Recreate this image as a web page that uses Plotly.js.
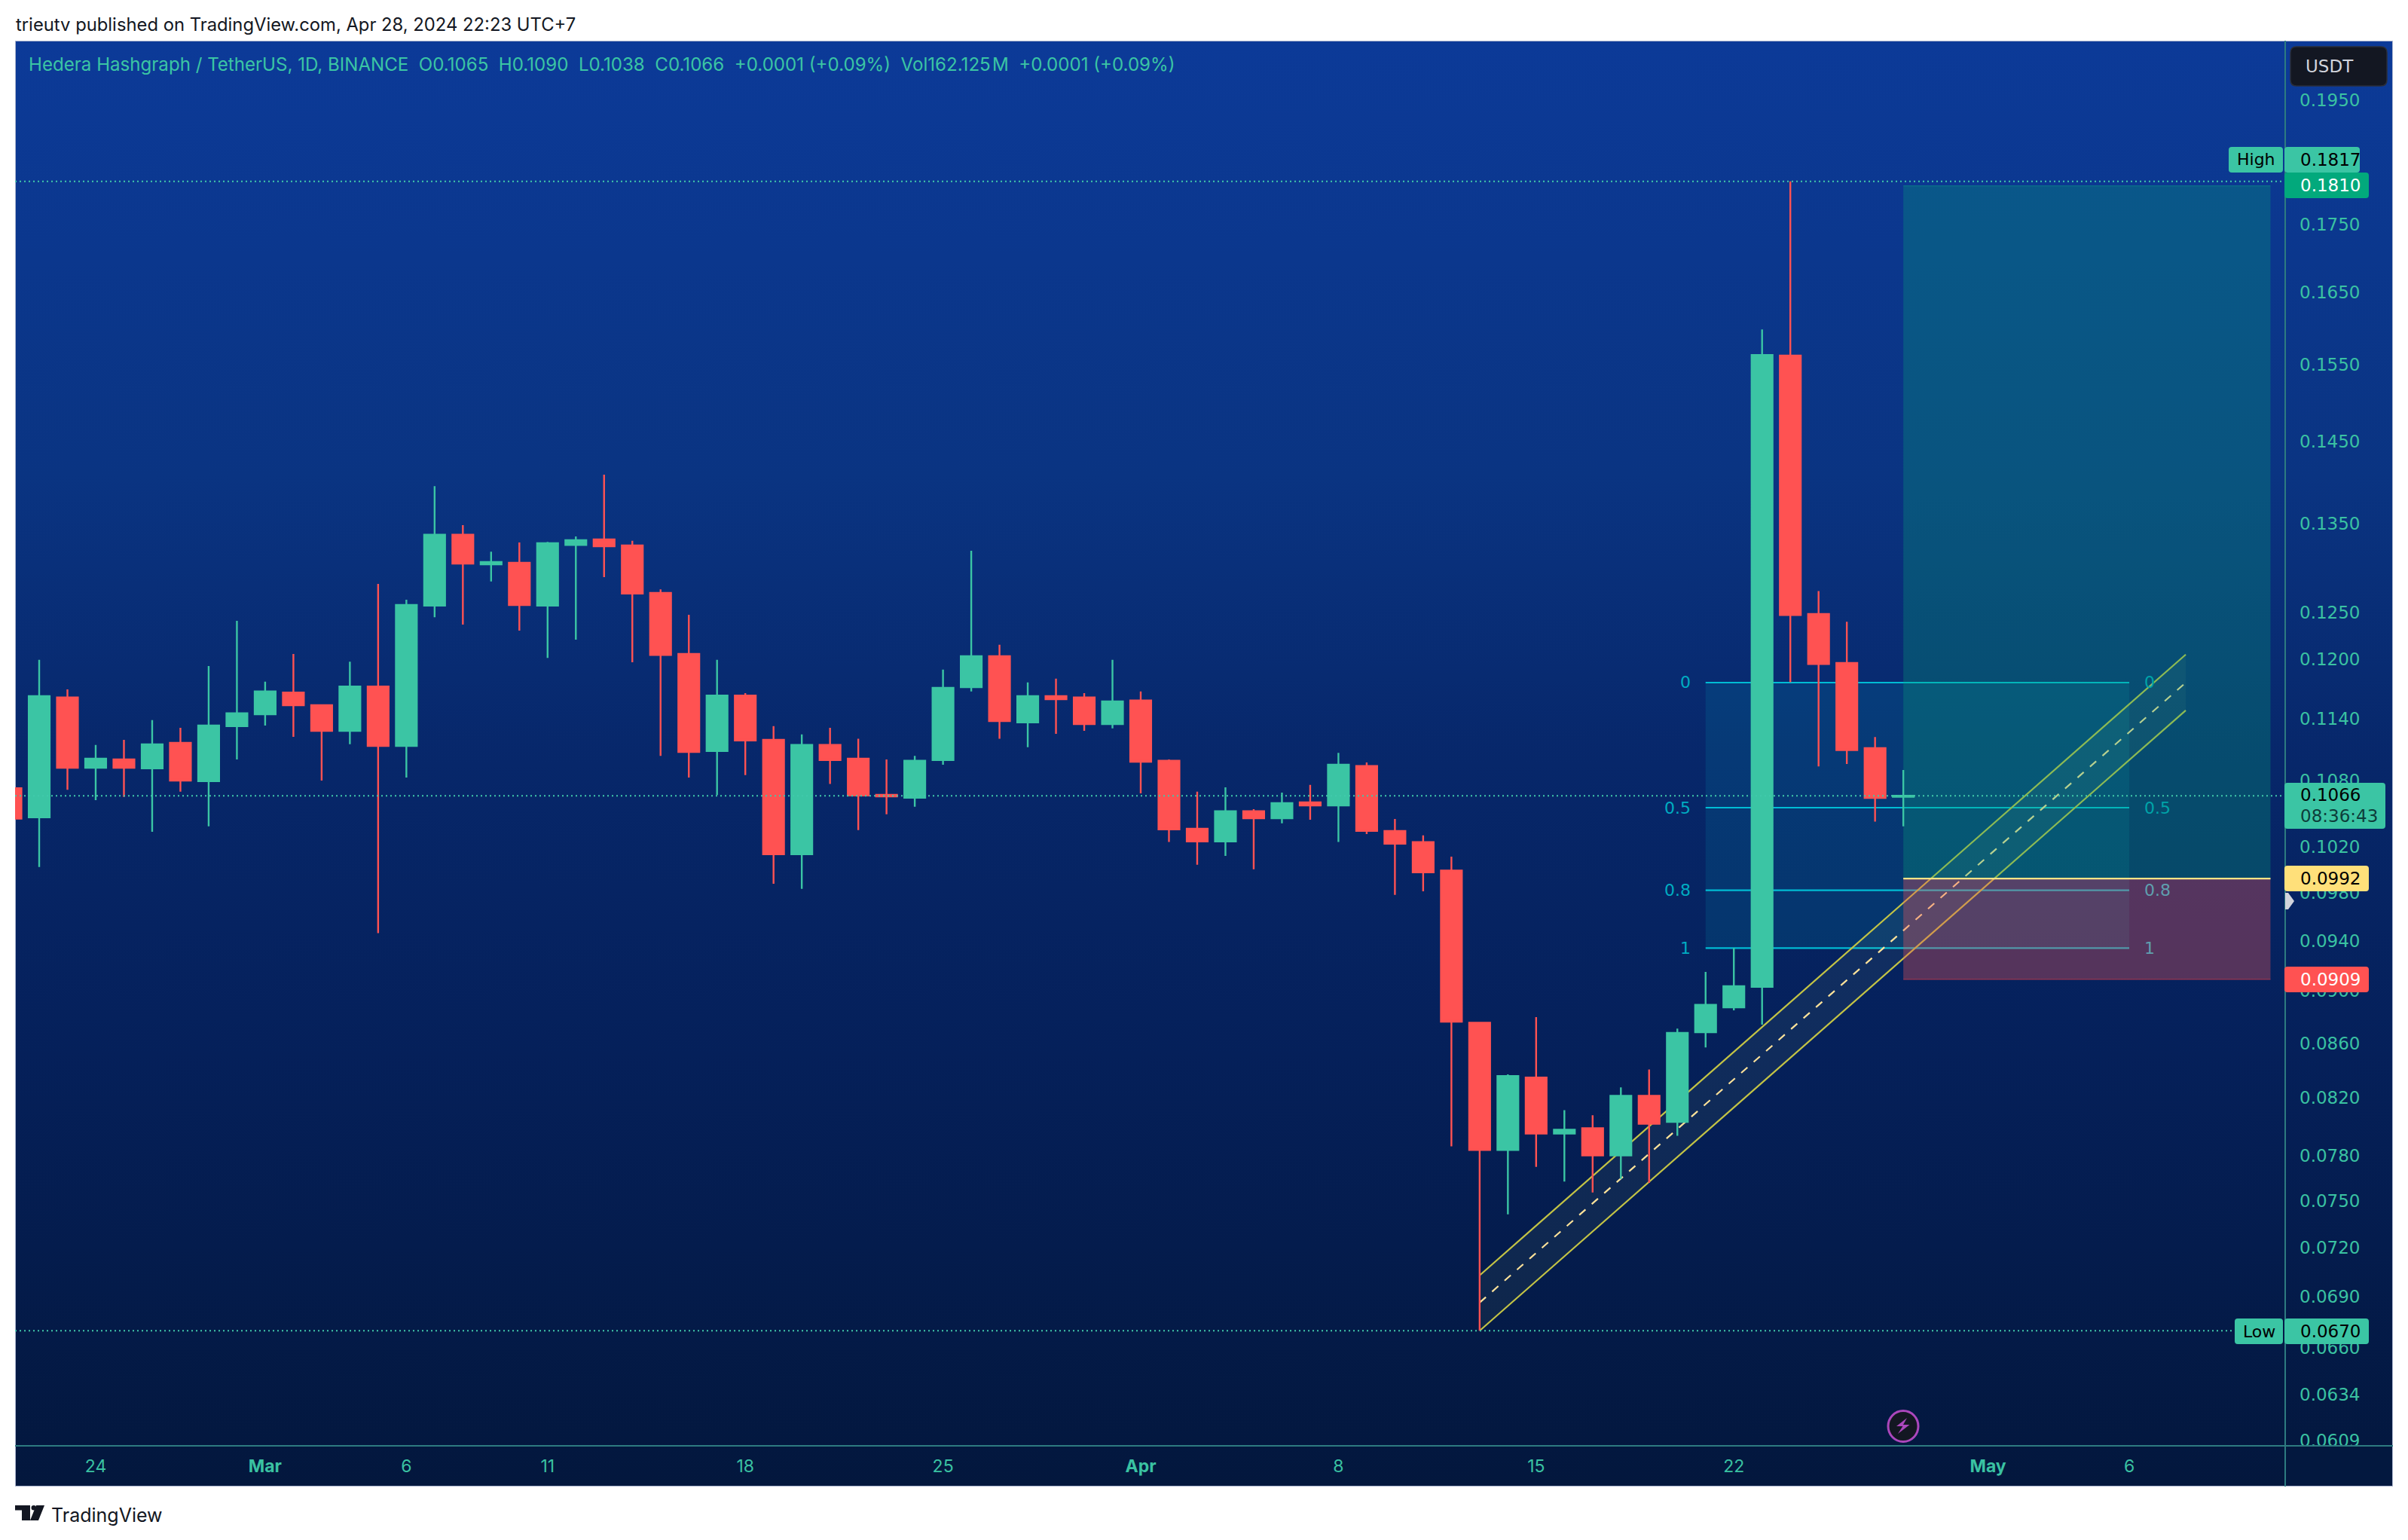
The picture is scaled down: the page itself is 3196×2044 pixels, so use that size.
<!DOCTYPE html>
<html><head><meta charset="utf-8">
<script src="https://cdn.plot.ly/plotly-3.0.1.min.js"></script>
<style>
html,body{margin:0;padding:0;background:#fff;width:3196px;height:2044px;overflow:hidden}
#panel{position:absolute;left:20px;top:54px;width:3156px;height:1919px;box-sizing:border-box;border:1.5px solid #aab4cd;
background:linear-gradient(180deg,#0c3a98 0%,#0a3482 30%,#07276a 50%,#05205a 70%,#03173d 100%)}
#chart{position:absolute;left:0;top:0;width:3196px;height:2044px}
</style></head><body>
<div id="panel"></div><div id="chart"></div>
<script>
const dates=['2024-02-21','2024-02-22','2024-02-23','2024-02-24','2024-02-25','2024-02-26','2024-02-27','2024-02-28','2024-02-29',
'2024-03-01','2024-03-02','2024-03-03','2024-03-04','2024-03-05','2024-03-06','2024-03-07','2024-03-08','2024-03-09','2024-03-10',
'2024-03-11','2024-03-12','2024-03-13','2024-03-14','2024-03-15','2024-03-16','2024-03-17','2024-03-18','2024-03-19','2024-03-20',
'2024-03-21','2024-03-22','2024-03-23','2024-03-24','2024-03-25','2024-03-26','2024-03-27','2024-03-28','2024-03-29','2024-03-30','2024-03-31',
'2024-04-01','2024-04-02','2024-04-03','2024-04-04','2024-04-05','2024-04-06','2024-04-07','2024-04-08','2024-04-09','2024-04-10',
'2024-04-11','2024-04-12','2024-04-13','2024-04-14','2024-04-15','2024-04-16','2024-04-17','2024-04-18','2024-04-19','2024-04-20',
'2024-04-21','2024-04-22','2024-04-23','2024-04-24','2024-04-25','2024-04-26','2024-04-27','2024-04-28'];
const open=[.1073,.10462,.11609,.10922,.11001,.10916,.1116,.10795,.11324,.1144,.11659,.11531,.11278,.1172,.11131,.12572,.1337,.13031,.1305,
.12572,.13253,.13316,.13246,.12711,.12056,.11082,.11629,.1119,.10132,.11141,.11008,.10669,.10641,.10995,.11713,.12032,.1136,.11622,.11609,.11344,
.11579,.10989,.10359,.10246,.10518,.10453,.10598,.1057,.10938,.10339,.1024,.09989,.08754,.07838,.08347,.07951,.07988,.07801,.08216,.08031,
.08681,.08871,.09031,.1562,.12481,.11961,.1111,.1065];
const high=[.1073,.11994,.1169,.11141,.1119,.11383,.11308,.11931,.12407,.11769,.12056,.11541,.11976,.12811,.12638,.13947,.13483,.13176,.13281,
.13288,.13351,.14087,.133,.12752,.12473,.11994,.11653,.11324,.11242,.11308,.112,.11001,.11036,.11893,.13186,.12153,.11762,.118,.11653,.11994,
.1167,.11001,.10697,.10738,.10536,.10689,.1076,.11065,.10973,.10447,.10299,.10111,.08754,.0837,.08796,.08114,.08078,.08276,.08406,.08709,
.09148,.0934,.15978,.1817,.12733,.12398,.11218,.109];
const low=[.1045,.10021,.10716,.1062,.10648,.10332,.10697,.1038,.11001,.1133,.11219,.10801,.11147,.09461,.1083,.12447,.12367,.12838,.12303,
.12014,.12206,.12887,.1197,.11036,.1083,.10666,.10852,.09876,.09832,.1077,.10347,.1049,.10558,.10951,.1167,.112,.11118,.11249,.11278,.11301,
.10682,.1024,.1004,.10117,.10001,.10407,.10441,.1024,.10312,.09781,.09812,.07863,.067,.07412,.07724,.07626,.07554,.07644,.07617,.07935,
.08568,.08848,.08739,.11763,.10935,.10958,.10424,.1038];
const close=[.1045,.11622,.10922,.11008,.10922,.11147,.10801,.1133,.11451,.1167,.11531,.11278,.1172,.11131,.12579,.1337,.13039,.13058,.12579,
.13273,.13308,.13238,.12704,.12046,.11072,.11629,.11183,.10132,.11141,.10995,.10663,.10654,.10989,.11707,.12032,.11373,.11622,.11592,.11344,.1157,
.10979,.10353,.10246,.10518,.10453,.10592,.1057,.10951,.10339,.10225,.09975,.08762,.07838,.08357,.07951,.07977,.07801,.08216,.08019,.08676,
.0889,.09036,.15628,.12471,.11951,.11091,.10639,.1066];
const priceTicks=[.195,.175,.165,.155,.145,.135,.125,.12,.114,.108,.102,.098,.094,.09,.086,.082,.078,.075,.072,.069,.066,.0634,.0609];
const dateTicks=['2024-02-24','2024-03-01','2024-03-06','2024-03-11','2024-03-18','2024-03-25','2024-04-01','2024-04-08','2024-04-15','2024-04-22','2024-05-01','2024-05-06'];
const dateLabels=['24','<b>Mar</b>','6','11','18','25','<b>Apr</b>','8','15','22','<b>May</b>','6'];
const xRange=['2024-02-21 03:30','2024-05-11 12:30'];
const yRange=[.06063,.2053];
const channelDates=['2024-04-13','2024-05-08'];
const channelUpper=[.0703,.1205], channelMid=[.06866,.1176], channelLower=[.067,.1148];
const toolDates=['2024-04-28','2024-05-11'];
const targetPrice=.181, entryPrice=.0992, stopPrice=.0909;
const fibDates=['2024-04-21','2024-05-06'];
const fibLevels=['0','0.5','0.8','1'];
const fibPrices=[.1176,.1055,.0982,.0934];
const fibRightColors=['#00a3a8','#00a3a8','#5f9fae','#5f9fae'];
const highPrice=.1817, lowPrice=.067, lastPrice=.1066;

const GREEN='#3bc5a4', RED='#ff5252', FONT='Inter, sans-serif', SCALE='"DejaVu Sans", sans-serif', TICK='#3ac2a2';
const X=p=>(p-20)/3013, Y=p=>(1919-p)/1865;
function rr(x0,y0,x1,y1,r,fill,extra){
 const P=(x,y)=>X(x)+','+Y(y);
 return {type:'path',layer:'above',xref:'paper',yref:'paper',fillcolor:fill,line:{width:(extra&&extra.lw)||0,color:(extra&&extra.lc)||fill},
  path:`M${P(x0+r,y0)} L${P(x1-r,y0)} Q${P(x1,y0)} ${P(x1,y0+r)} L${P(x1,y1-r)} Q${P(x1,y1)} ${P(x1-r,y1)} L${P(x0+r,y1)} Q${P(x0,y1)} ${P(x0,y1-r)} L${P(x0,y0+r)} Q${P(x0,y0)} ${P(x0+r,y0)} Z`};
}
const poly=(pts,fill)=>({type:'path',layer:'above',xref:'paper',yref:'paper',fillcolor:fill,line:{width:0},
 path:'M'+pts.map(p=>X(p[0])+','+Y(p[1])).join(' L')+' Z'});
const txt=(t,px,py,col,size,anchor,fam)=>({text:t,xref:'paper',yref:'paper',x:X(px),y:Y(py),xanchor:anchor||'left',yanchor:'middle',
 showarrow:false,font:{family:fam||SCALE,size:size||23,color:col},borderpad:0});

const traces=[
 {type:'scatter',mode:'lines',x:channelDates,y:channelLower,line:{color:'#c4c445',width:2.2},zorder:1,hoverinfo:'skip'},
 {type:'scatter',mode:'lines',x:channelDates,y:channelUpper,line:{color:'#c4c445',width:2.2},fill:'tonexty',fillcolor:'rgba(200,235,130,0.06)',zorder:1,hoverinfo:'skip'},
 {type:'scatter',mode:'lines',x:channelDates,y:channelMid,line:{color:'#ffe39a',width:2.2,dash:'11px,11px'},zorder:1,hoverinfo:'skip'},
 {type:'scatter',mode:'lines',x:[toolDates[0],toolDates[1],toolDates[1],toolDates[0],toolDates[0]],y:[targetPrice,targetPrice,entryPrice,entryPrice,targetPrice],
  fill:'toself',fillcolor:'rgba(8,165,120,0.29)',line:{width:0},zorder:2,hoverinfo:'skip'},
 {type:'scatter',mode:'lines',x:[toolDates[0],toolDates[1],toolDates[1],toolDates[0],toolDates[0]],y:[entryPrice,entryPrice,stopPrice,stopPrice,entryPrice],
  fill:'toself',fillcolor:'rgba(235,85,90,0.35)',line:{width:0},zorder:2,hoverinfo:'skip'},
 {type:'scatter',mode:'lines',x:toolDates,y:[stopPrice,stopPrice],line:{color:'#8c3550',width:1.5},zorder:2,hoverinfo:'skip'},
 {type:'scatter',mode:'lines',x:toolDates,y:[targetPrice,targetPrice],line:{color:'#0a6a8a',width:1.5},zorder:2,hoverinfo:'skip'},
 {type:'scatter',mode:'lines',x:toolDates,y:[entryPrice,entryPrice],line:{color:'#ffe486',width:2.4},zorder:2,hoverinfo:'skip'},
 {type:'candlestick',x:dates,open:open,high:high,low:low,close:close,whiskerwidth:0,zorder:3,
  increasing:{line:{color:GREEN,width:2.4},fillcolor:GREEN},decreasing:{line:{color:RED,width:2.4},fillcolor:RED},hoverinfo:'skip'}
];

const dotted=(p)=>({type:'line',layer:'above',xref:'paper',yref:'y',x0:0,x1:1,y0:p,y1:p,line:{color:'#41c9aa',width:2,dash:'2px,4px'}});
const shapes=[
 {type:'rect',layer:'below',xref:'x',yref:'y',x0:fibDates[0],x1:fibDates[1],y0:fibPrices[0],y1:fibPrices[3],fillcolor:'rgba(0,172,193,0.14)',line:{width:0}},
 ...fibPrices.map(p=>({type:'line',layer:'below',xref:'x',yref:'y',x0:fibDates[0],x1:fibDates[1],y0:p,y1:p,line:{color:'#00bcd4',width:2.2}})),
 dotted(highPrice),dotted(lowPrice),dotted(lastPrice),
 {type:'rect',layer:'above',xref:'paper',yref:'paper',x0:X(3034),x1:X(3175),y0:Y(1920),y1:Y(1972),fillcolor:'#03183f',line:{width:0}},
 {type:'line',layer:'above',xref:'paper',yref:'paper',x0:X(3033),x1:X(3033),y0:Y(54),y1:Y(1973),line:{color:'#2d7b80',width:2}},
 {type:'line',layer:'above',xref:'paper',yref:'paper',x0:X(20),x1:X(3176),y0:Y(1919),y1:Y(1919),line:{color:'#2d7b80',width:2}},
 rr(3040,62,3168,114,8,'#131722',{lw:1.5,lc:'#2a2e39'}),
 rr(2958,195,3030,229,4,GREEN),
 rr(3032,195,3132,229,4,GREEN),
 rr(3032,229,3144,263,4,'#02a97c'),
 rr(3032,1039,3166,1100,4,GREEN),
 rr(3032,1149,3144,1183,4,'#ffe07a'),
 rr(3032,1283,3144,1317,4,RED),
 rr(2966,1750,3030,1784,4,GREEN),
 rr(3032,1750,3144,1784,4,GREEN),
 poly([[3033,1185],[3037,1185],[3045,1196],[3037,1207],[3033,1207]],'#d1d4dc'),
 {type:'circle',layer:'above',xref:'paper',yref:'paper',x0:X(2506),x1:X(2546),y0:Y(1872.5),y1:Y(1913.5),fillcolor:'#131722',line:{color:'#ab47bc',width:3}},
 poly([[2531,1882],[2517,1893],[2525.4,1893],[2519,1903],[2534.5,1891],[2526,1891]],'#ab47bc'),
 poly([[20,1998],[40,1998],[40,2018],[29,2018],[29,2004.5],[20,2004.5]],'#131722'),
 {type:'circle',layer:'above',xref:'paper',yref:'paper',x0:X(41.5),x1:X(48),y0:Y(1998),y1:Y(2004.5),fillcolor:'#131722',line:{width:0}},
 poly([[48,1998],[59,1998],[51,2018],[40,2018]],'#131722')
];

const annotations=[
 txt('trieutv published on TradingView.com, Apr 28, 2024 22:23 UTC+7',20,32,'#131722',23.8,'left',FONT),
 txt('Hedera Hashgraph / TetherUS, 1D, BINANCE\u00a0\u00a0O0.1065\u00a0\u00a0H0.1090\u00a0\u00a0L0.1038\u00a0\u00a0C0.1066\u00a0\u00a0+0.0001 (+0.09%)\u00a0\u00a0Vol162.125\u200aM\u00a0\u00a0+0.0001 (+0.09%)',37,86,'#3bc5a4',24.1,'left',FONT),
 txt('TradingView',67,2011,'#131722',25,'left',FONT),
 txt('USDT',3059,88,'#d1d4dc',23),
 txt('High',2994,212,'#000',22,'center'),
 txt('0.1817',3052,212,'#000',23),
 txt('0.1810',3052,246,'#fff',23),
 txt('0.1066',3052,1055,'#000',23),
 txt('08:36:43',3052,1083,'#0d3d3a',23),
 txt('0.0992',3052,1166,'#000',23),
 txt('0.0909',3052,1300,'#fff',23),
 txt('Low',2998,1767,'#000',22,'center'),
 txt('0.0670',3052,1767,'#000',23),
 ...fibLevels.map((l,i)=>({text:l,xref:'x',yref:'y',x:fibDates[0],y:Math.log10(fibPrices[i]),xanchor:'right',yanchor:'middle',xshift:-18,showarrow:false,font:{family:SCALE,size:22,color:'#00acc1'}})),
 ...fibLevels.map((l,i)=>({text:l,xref:'x',yref:'y',x:fibDates[1],y:Math.log10(fibPrices[i]),xanchor:'left',yanchor:'middle',xshift:18,showarrow:false,font:{family:SCALE,size:22,color:fibRightColors[i]}}))
];

Plotly.newPlot('chart',traces,{
 width:3196,height:2044,showlegend:false,paper_bgcolor:'rgba(0,0,0,0)',plot_bgcolor:'rgba(0,0,0,0)',
 margin:{l:20,r:163,t:54,b:125,pad:0},boxgap:0.26,boxgroupgap:0,hovermode:false,
 xaxis:{type:'date',range:xRange,rangeslider:{visible:false},showgrid:false,zeroline:false,showline:false,ticks:'',ticklabelstandoff:11,
  tickmode:'array',tickvals:dateTicks,ticktext:dateLabels,tickfont:{family:FONT,size:23,color:TICK},tickangle:0},
 yaxis:{type:'log',side:'right',range:[Math.log10(yRange[0]),Math.log10(yRange[1])],showgrid:false,zeroline:false,showline:false,ticks:'',
  tickmode:'array',tickvals:priceTicks,ticktext:priceTicks.map(v=>v.toFixed(4)),tickfont:{family:SCALE,size:23,color:TICK},ticklabelstandoff:18},
 shapes:shapes,annotations:annotations
},{displayModeBar:false,responsive:false});
</script></body></html>
